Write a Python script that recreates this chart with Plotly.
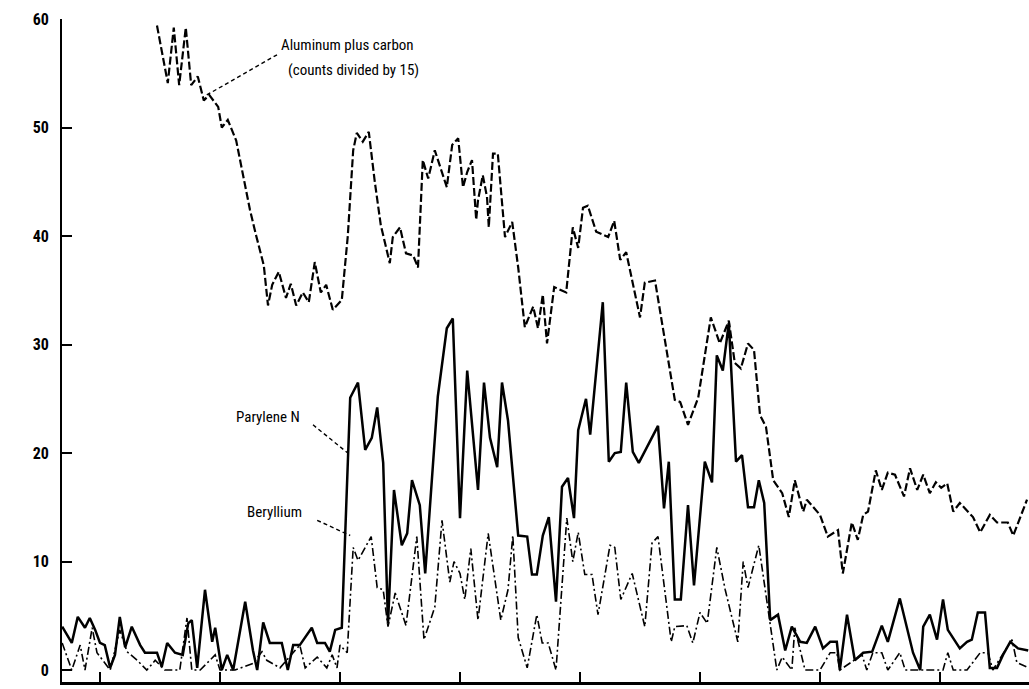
import plotly.graph_objects as go

# ---------------- data (channel number, counts) ----------------
al_x = [9.5, 11.3, 12.3, 13.2, 14.3, 15.2, 16.3, 17.3, 18.2, 19.7, 20.3, 21.3, 22.7, 24.0, 25.0,
        26.0, 27.3, 28.0, 28.7, 29.8, 31.0, 31.8, 32.7, 33.8, 34.8, 35.8, 36.8, 37.7, 38.8, 40.3,
        41.3, 42.2, 42.8, 43.8, 44.8, 45.8, 46.8, 48.3, 48.8, 50.0, 51.0, 52.2, 53.0, 53.8, 54.7,
        55.8, 57.8, 58.7, 59.7, 60.5, 61.2, 62.0, 62.7, 63.0, 63.8, 64.5, 64.8, 65.5, 66.3, 67.5,
        68.7, 69.7, 70.8, 72.2, 73.0, 73.8, 74.5, 75.7, 77.7, 78.8, 79.7, 80.5, 81.3, 82.7, 84.7,
        85.7, 86.7, 87.7, 90.0, 90.8, 92.5, 95.8, 96.7, 98.0, 99.7, 101.8, 103.3, 104.8, 105.8,
        106.8, 108.0, 109.0, 110.0, 111.0, 112.2, 113.7, 114.8, 115.8, 117.2, 117.8, 120.0, 121.3,
        123.0, 123.8, 125.3, 126.3, 127.2, 128.0, 129.3, 130.3, 131.3, 132.5, 134.0, 135.0, 136.2,
        137.2, 138.3, 139.3, 140.2, 141.2, 142.2, 143.3, 145.5, 146.7, 148.3, 149.5, 151.3, 152.2,
        154.5]
al_y = [59.4, 54.1, 59.2, 53.9, 59.2, 53.9, 54.7, 52.5, 53.0, 51.9, 50.0, 50.7, 48.8, 45.2, 42.4,
        40.1, 37.3, 33.6, 35.5, 36.7, 34.3, 35.6, 33.6, 34.8, 33.9, 37.6, 34.8, 35.5, 33.2, 34.1,
        40.0, 47.9, 49.5, 48.7, 49.6, 45.0, 41.0, 37.5, 39.9, 40.8, 38.4, 38.2, 37.1, 47.0, 45.3,
        47.9, 44.5, 48.4, 49.0, 44.5, 45.9, 47.0, 41.5, 43.3, 45.6, 43.6, 40.8, 47.6, 47.6, 39.9,
        41.3, 37.1, 31.6, 33.5, 31.5, 34.6, 30.1, 35.3, 34.8, 40.8, 38.9, 42.6, 42.8, 40.4, 39.9,
        41.4, 37.8, 38.5, 32.5, 35.7, 35.9, 24.9, 24.7, 22.6, 25.1, 32.5, 30.1, 32.2, 28.3,
        27.8, 30.1, 29.5, 23.5, 22.4, 17.5, 16.3, 14.1, 17.5, 14.6, 15.7, 14.3, 12.3,
        12.9, 8.9, 13.6, 12.0, 14.3, 14.6, 18.4, 16.6, 18.2, 18.0, 16.0, 18.6, 16.6,
        18.0, 16.3, 17.3, 16.8, 17.2, 14.6, 15.4, 14.1, 12.7, 14.3, 13.6, 13.6, 12.4,
        15.7]

par_x = [-6.3, -4.7, -3.7, -2.5, -1.7, -0.8, 0.0, 0.8, 1.7, 2.5, 3.3, 4.2, 5.3, 6.7, 7.5, 9.5,
         10.3, 11.2, 12.5, 13.8, 14.7, 15.3, 16.2, 17.5, 18.7, 19.2, 20.3, 21.2, 22.2, 24.2, 25.5,
         26.2, 27.2, 28.3, 30.3, 31.3, 32.2, 33.3, 35.3, 36.2, 37.5, 38.3, 39.2, 40.3, 41.7, 43.0,
         44.2, 45.3, 46.2, 47.2, 48.0, 49.0, 50.3, 51.2, 52.0, 53.3, 54.2, 56.3, 57.8, 58.8, 60.0,
         61.2, 63.0, 64.0, 65.0, 66.2, 67.0, 68.0, 69.7, 71.2, 72.0, 72.8, 73.8, 74.8, 76.0, 77.0,
         78.0, 79.0, 79.7, 81.0, 81.7, 83.8, 84.8, 85.8, 86.8, 87.7, 88.8, 89.8, 93.0, 94.0, 94.8,
         95.8, 96.8, 98.0, 99.0, 100.8, 102.0, 102.8, 103.8, 104.8, 106.0, 107.0, 108.0, 109.0,
         109.8, 110.7, 111.7, 113.0, 114.2, 115.3, 116.7, 117.8, 119.2, 120.5, 121.7, 122.8, 123.3,
         124.5, 125.8, 127.2, 128.7, 130.3, 131.3, 133.3, 135.5, 136.7, 137.2, 138.3, 139.5, 140.5,
         141.3, 143.3, 144.5, 145.3, 146.3, 147.5, 148.3, 149.5, 150.5, 151.7, 153.0, 154.7]
par_y = [4.0, 2.5, 4.9, 3.9, 4.8, 3.7, 2.5, 2.3, 0.2, 1.4, 4.9, 2.1, 4.0, 2.3, 1.6, 1.6,
         0.3, 2.5, 1.6, 1.4, 4.3, 4.6, 0.2, 7.4, 2.6, 3.9, 0.0, 1.4, 0.0, 6.3, 1.8,
         0.0, 4.4, 2.5, 2.5, 0.0, 2.3, 2.3, 3.9, 2.5, 2.5, 1.7, 3.7, 3.9, 25.1, 26.5,
         20.3, 21.4, 24.2, 19.1, 4.3, 16.6, 11.5, 12.6, 17.5, 15.2, 8.9, 25.2, 31.5, 32.4, 14.0,
         27.6, 16.6, 26.5, 21.4, 18.7, 26.5, 23.0, 12.4, 12.3, 8.8, 8.8, 12.4, 14.1, 6.3, 16.9,
         17.7, 14.0, 22.1, 25.0, 21.7, 33.9, 19.2, 20.0, 20.1, 26.5, 20.1, 19.1, 22.5, 14.9, 19.2,
         6.5, 6.5, 15.2, 7.8, 19.2, 17.3, 29.0, 27.6, 32.0, 19.2, 19.8, 15.0, 15.0,
         17.5, 15.4, 4.6, 5.1, 1.8, 4.0, 2.6, 2.5, 4.0, 2.0, 2.6, 2.6, 0.0,
         5.1, 0.9, 1.6, 1.7, 4.1, 2.6, 6.6, 1.6, 0.0, 4.0, 5.1, 2.8, 6.5,
         3.7, 2.0, 2.6, 2.8, 5.3, 5.3, 0.2, 0.2, 1.4, 2.6, 2.0, 1.8]

be_x = [-6.3, -4.7, -3.3, -2.5, -1.3, -0.5, 1.7, 3.3, 4.5, 6.2, 7.8, 9.2, 10.8, 13.3, 14.5, 15.3,
        16.7, 19.2, 20.0, 22.5, 25.5, 27.0, 27.8, 30.0, 32.5, 33.3, 34.2, 36.2, 37.8, 38.7, 39.5,
        40.0, 41.2, 42.2, 43.0, 45.2, 46.2, 47.2, 48.0, 49.2, 51.0, 52.8, 54.0, 55.8, 57.0, 58.3,
        59.0, 60.0, 60.8, 61.8, 63.0, 64.7, 66.8, 68.0, 68.8, 69.7, 71.2, 72.8, 73.7, 74.7, 76.0,
        77.8, 78.8, 79.7, 80.8, 82.0, 83.0, 85.0, 85.8, 86.8, 88.7, 90.8, 92.0, 93.0, 95.2, 95.8,
        97.8, 98.8, 100.0, 101.2, 102.8, 104.2, 106.3, 107.2, 108.0, 109.8, 112.8, 113.7, 115.3,
        115.8, 117.5, 120.0, 121.7, 122.8, 123.3, 127.0, 127.8, 128.8, 130.3, 131.3, 133.3, 134.2,
        140.5, 141.3, 142.2, 144.5, 146.7, 148.0, 148.8, 152.0, 152.8, 154.8]
be_y = [2.5, 0.0, 2.3, 0.0, 3.9, 1.6, 0.0, 3.7, 1.7, 0.9, 0.0, 0.9, 0.0, 0.0, 4.8, 0.0,
        0.0, 1.4, 0.0, 0.0, 0.6, 1.7, 0.9, 0.2, 1.8, 2.3, 0.2, 1.2, 0.2, 1.4, 0.2,
        2.3, 1.6, 11.3, 10.1, 12.3, 7.6, 7.4, 4.0, 7.1, 4.1, 12.3, 2.8, 5.8, 13.8, 8.1,
        10.0, 8.9, 6.5, 11.2, 4.6, 12.6, 4.6, 7.4, 12.4, 3.0, 0.2, 5.1, 2.5, 2.5, 0.0,
        14.0, 10.0, 12.7, 8.8, 8.8, 5.1, 11.5, 11.3, 6.5, 8.9, 4.0, 11.7, 12.3, 2.6, 4.0,
        4.1, 2.5, 5.3, 4.3, 11.3, 7.4, 2.6, 10.0, 7.6, 11.5, 0.0, 1.2, 0.0,
        3.9, 0.0, 0.0, 1.6, 1.6, 0.0, 1.4, 0.0, 1.6, 1.6, 0.0, 1.6, 0.0,
        0.0, 1.6, 0.0, 0.0, 1.6, 1.6, 0.0, 2.8, 0.7, 0.2]

y_ticks = [0, 10, 20, 30, 40, 50, 60]
x_ticks = [0, 20, 40, 60, 80, 100, 120, 140]

FONT = "Liberation Sans Narrow, Roboto Condensed, Arial Narrow, Liberation Sans, sans-serif"

fig = go.Figure()
fig.add_trace(go.Scatter(x=al_x, y=al_y, mode="lines", name="Aluminum plus carbon",
                         line=dict(color="black", width=2.2, dash="8px,3px")))
fig.add_trace(go.Scatter(x=par_x, y=par_y, mode="lines", name="Parylene N",
                         line=dict(color="black", width=2.5)))
fig.add_trace(go.Scatter(x=be_x, y=be_y, mode="lines", name="Beryllium",
                         line=dict(color="black", width=1.6, dash="8px,3px,2px,3px")))

# leader lines for labels
leader = dict(color="black", width=1.4, dash="4px,3px")
fig.add_trace(go.Scatter(x=[17.8, 29.5], y=[53.0, 56.7], mode="lines", line=leader, hoverinfo="skip"))
fig.add_trace(go.Scatter(x=[35.5, 41.3], y=[22.6, 20.0], mode="lines", line=leader, hoverinfo="skip"))
fig.add_trace(go.Scatter(x=[36.2, 41.7], y=[13.8, 12.4], mode="lines", line=leader, hoverinfo="skip"))

ann_font = dict(family=FONT, size=15, color="black")
fig.add_annotation(x=29.8, y=57.6, text="Aluminum plus carbon", showarrow=False,
                   xanchor="left", yanchor="middle", font=ann_font)
fig.add_annotation(x=31.0, y=55.3, text="(counts divided by 15)", showarrow=False,
                   xanchor="left", yanchor="middle", font=ann_font)
fig.add_annotation(x=22.3, y=23.3, text="Parylene N", showarrow=False,
                   xanchor="left", yanchor="middle", font=ann_font)
fig.add_annotation(x=24.1, y=14.6, text="Beryllium", showarrow=False,
                   xanchor="left", yanchor="middle", font=ann_font)

fig.update_layout(
    width=1029, height=689,
    margin=dict(l=62, r=0, t=19, b=7),
    paper_bgcolor="white", plot_bgcolor="white",
    showlegend=False,
)
fig.update_xaxes(range=[-6.33, 154.83], showgrid=False, zeroline=False,
                 showline=True, linecolor="black", linewidth=2.5,
                 tickmode="array", tickvals=x_ticks, ticks="inside", ticklen=10,
                 tickwidth=1.5, tickcolor="black", showticklabels=False)
fig.update_yaxes(range=[-1.1, 60], showgrid=False, zeroline=False,
                 showline=True, linecolor="black", linewidth=2,
                 tickmode="array", tickvals=y_ticks, ticks="inside", ticklen=10,
                 tickwidth=2, tickcolor="black",
                 tickfont=dict(family=FONT, size=16, color="black", weight="bold"),
                 ticklabelstandoff=8)

fig.write_html("out.html")
